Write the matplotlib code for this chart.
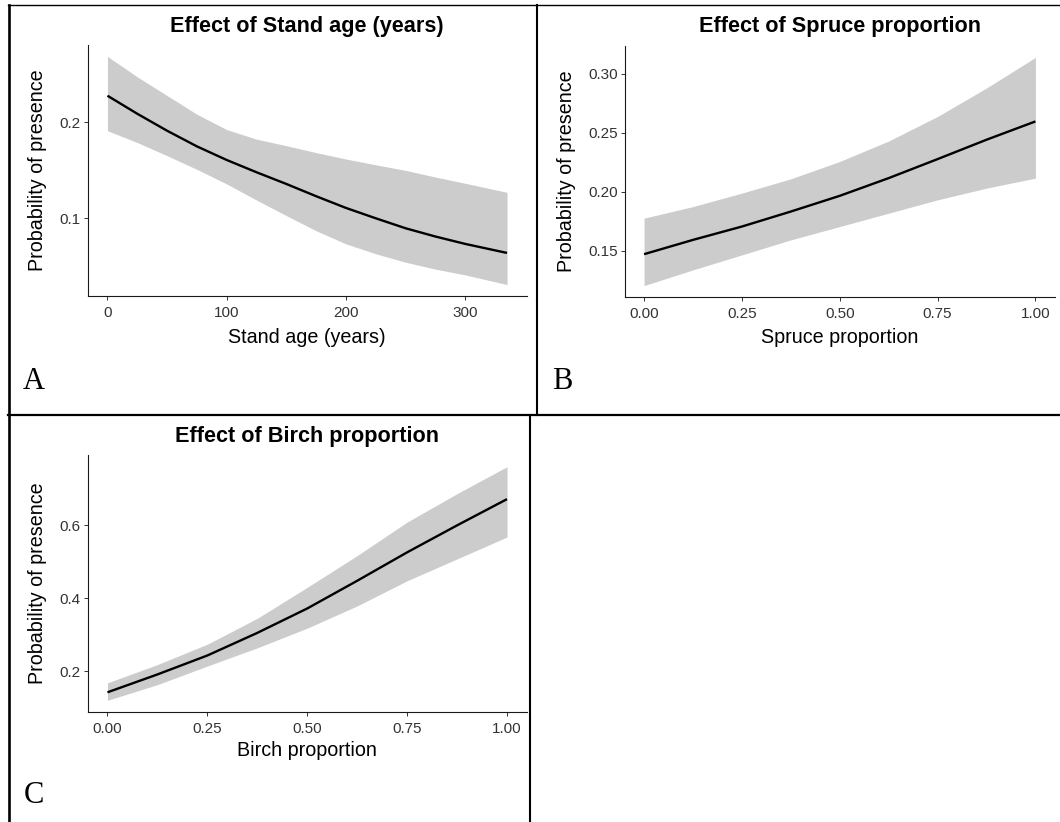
import numpy as np
import matplotlib
matplotlib.use('Agg')
import matplotlib.pyplot as plt
from matplotlib.lines import Line2D

plt.rcParams['font.family'] = ['Liberation Sans', 'DejaVu Sans']

W, H = 1060, 822

# predicted probability of presence with 95% band, one set per covariate
age = [0, 25, 50, 75, 100, 125, 150, 175, 200, 225, 250, 275, 300, 335]
age_fit = [0.2278, 0.2090, 0.1913, 0.1750, 0.1608, 0.1480, 0.1358,
           0.1230, 0.1108, 0.1000, 0.0896, 0.0810, 0.0733, 0.0639]
age_hi = [0.2688, 0.2475, 0.2280, 0.2085, 0.1925, 0.1825, 0.1757,
          0.1685, 0.1618, 0.1558, 0.1500, 0.1430, 0.1365, 0.1271]
age_lo = [0.1913, 0.1790, 0.1653, 0.1510, 0.1358, 0.1190, 0.1028,
          0.0870, 0.0733, 0.0630, 0.0542, 0.0470, 0.0410, 0.0309]

prop = [0, 0.125, 0.25, 0.375, 0.5, 0.625, 0.75, 0.875, 1.0]
spruce_fit = [0.1472, 0.1593, 0.1706, 0.1833, 0.1966, 0.2116, 0.2277, 0.2441, 0.2596]
spruce_hi = [0.1777, 0.1875, 0.1989, 0.2110, 0.2257, 0.2430, 0.2638, 0.2879, 0.3138]
spruce_lo = [0.1206, 0.1339, 0.1466, 0.1593, 0.1706, 0.1819, 0.1932, 0.2031, 0.2116]

birch_fit = [0.142, 0.191, 0.243, 0.305, 0.372, 0.448, 0.526, 0.600, 0.672]
birch_hi = [0.168, 0.218, 0.274, 0.345, 0.430, 0.517, 0.609, 0.687, 0.761]
birch_lo = [0.120, 0.163, 0.214, 0.264, 0.318, 0.379, 0.448, 0.508, 0.568]

age_ticks = [0, 100, 200, 300]
prop_ticks = [0, 0.25, 0.5, 0.75, 1.0]


def box(left, top, right, bottom):
    return [left / W, 1 - bottom / H, (right - left) / W, (bottom - top) / H]


def panel(fig, rect, x, fit, lo, hi, xticks, xfmt, yticks, yfmt, xlabel,
          title, title_base, ylab_x, xlab_y):
    ax = fig.add_axes(box(*rect))
    ax.fill_between(x, lo, hi, color='#cccccc', linewidth=0)
    ax.plot(x, fit, color='black', linewidth=1.7, solid_capstyle='butt',
            solid_joinstyle='round')
    span = max(x) - min(x)
    ax.set_xlim(min(x) - 0.05 * span, max(x) + 0.05 * span)
    ymin, ymax = min(lo), max(hi)
    ax.set_ylim(ymin - 0.05 * (ymax - ymin), ymax + 0.05 * (ymax - ymin))
    ax.set_xticks(xticks)
    ax.set_xticklabels([xfmt.format(v) for v in xticks])
    ax.set_yticks(yticks)
    ax.set_yticklabels([yfmt.format(v) for v in yticks])
    for s in ['top', 'right']:
        ax.spines[s].set_visible(False)
    for s in ['left', 'bottom']:
        ax.spines[s].set_linewidth(0.8)
        ax.spines[s].set_color('#1a1a1a')
    ax.tick_params(axis='both', direction='out', length=3.2, width=0.7,
                   color='#333333', labelsize=11, labelcolor='#333333')
    ax.tick_params(axis='x', pad=4.0)
    ax.tick_params(axis='y', pad=1.8)
    ax.set_xlabel(xlabel, fontsize=14.2, color='black')
    ax.set_ylabel('Probability of presence', fontsize=14.2, color='black')
    ax.yaxis.set_label_coords(ylab_x, 0.5)
    ax.xaxis.set_label_coords(0.5, xlab_y)
    cx = (rect[0] + rect[2]) / 2
    fig.text(cx / W, 1 - title_base / H, title, ha='center', va='baseline',
             fontsize=15.6, fontweight='bold')
    return ax


fig = plt.figure(figsize=(W / 100, H / 100), dpi=100)

panel(fig, (87.5, 45, 527, 296), age, age_fit, age_lo, age_hi,
      age_ticks, '{:.0f}', [0.1, 0.2], '{:.1f}', 'Stand age (years)',
      'Effect of Stand age (years)', 32, -0.0915, -0.1255)
panel(fig, (624.5, 46, 1055, 297), prop, spruce_fit, spruce_lo, spruce_hi,
      prop_ticks, '{:.2f}', [0.15, 0.20, 0.25, 0.30], '{:.2f}',
      'Spruce proportion', 'Effect of Spruce proportion', 32, -0.1136, -0.1235)
panel(fig, (87.5, 455, 527, 712), prop, birch_fit, birch_lo, birch_hi,
      prop_ticks, '{:.2f}', [0.2, 0.4, 0.6], '{:.1f}',
      'Birch proportion', 'Effect of Birch proportion', 442, -0.0915, -0.113)

# panel letters
for letter, lx, ly in [('A', 23, 388.5), ('B', 552.5, 388.5), ('C', 24, 803)]:
    fig.text(lx / W, 1 - ly / H, letter, ha='left', va='baseline',
             fontsize=22, family='Liberation Serif')


# table borders around the panels
def rule(x0, y0, x1, y1, lw):
    fig.add_artist(Line2D([x0 / W, x1 / W], [1 - y0 / H, 1 - y1 / H],
                          color='black', linewidth=lw,
                          transform=fig.transFigure))


rule(8, 5.5, W, 5.5, 1.0)
rule(8.5, 5, 8.5, H, 1.9)
rule(536.5, 5, 536.5, 415, 1.5)
rule(8, 415, W, 415, 1.6)
rule(530, 415, 530, H, 1.5)

fig.savefig('out.png', dpi=100)
